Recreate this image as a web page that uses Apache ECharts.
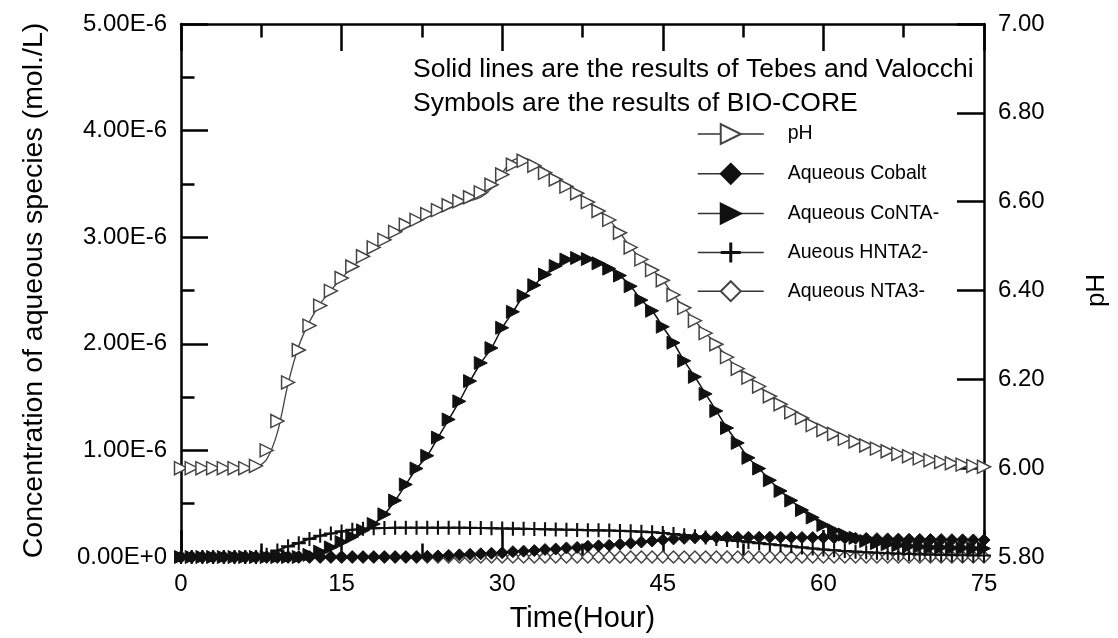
<!DOCTYPE html>
<html>
<head>
<meta charset="utf-8">
<script src="https://cdn.jsdelivr.net/npm/echarts@6/dist/echarts.min.js"></script>
<style>
html,body{margin:0;padding:0;background:#fff;}
#c{width:1118px;height:638px;}
</style>
</head>
<body>
<div id="c"></div>
<script>
// Time axis (hours), one symbol per hour
const hours = [];
for (let h = 0; h <= 75; h++) hours.push(h);

// pH from BIO-CORE (symbols)
const phSymbols = [6.00,6.00,6.00,6.00,6.00,6.00,6.00,6.005,6.04,6.106,
  6.193,6.266,6.321,6.366,6.399,6.428,6.454,6.477,6.497,6.514,
  6.532,6.548,6.559,6.572,6.581,6.592,6.601,6.61,6.621,6.638,
  6.661,6.683,6.692,6.681,6.665,6.65,6.634,6.619,6.599,6.579,
  6.559,6.530,6.497,6.470,6.446,6.423,6.390,6.361,6.332,6.304,
  6.279,6.250,6.224,6.204,6.184,6.162,6.144,6.126,6.113,6.097,
  6.086,6.077,6.066,6.060,6.051,6.044,6.038,6.032,6.027,6.022,
  6.018,6.014,6.011,6.008,6.005,6.003];
// pH from Tebes and Valocchi (solid line)
const phLine = [6.00,6.00,6.00,6.00,6.00,6.00,6.00,6.002,6.02,6.08,
  6.19,6.275,6.33,6.37,6.40,6.428,6.452,6.474,6.494,6.511,
  6.527,6.541,6.553,6.565,6.575,6.585,6.594,6.602,6.61,6.63,
  6.665,6.693,6.698,6.688,6.672,6.655,6.636,6.619,6.599,6.579,
  6.559,6.530,6.497,6.470,6.446,6.423,6.390,6.361,6.332,6.304,
  6.279,6.250,6.224,6.204,6.184,6.162,6.144,6.126,6.113,6.097,
  6.086,6.077,6.066,6.060,6.051,6.044,6.038,6.032,6.027,6.022,
  6.018,6.014,6.011,6.008,6.005,6.003];

// Concentrations in units of 1e-6 mol/L
const coNTA = [0,0,0,0,0,0,0,0,0,0,
  0,0,0.02,0.05,0.09,0.14,0.19,0.25,0.31,0.40,
  0.53,0.68,0.83,0.95,1.12,1.29,1.46,1.65,1.82,1.96,
  2.15,2.30,2.45,2.55,2.65,2.73,2.79,2.805,2.795,2.755,
  2.705,2.64,2.54,2.41,2.31,2.16,2.01,1.84,1.69,1.53,
  1.37,1.21,1.07,0.93,0.83,0.72,0.62,0.53,0.44,0.37,
  0.30,0.25,0.21,0.18,0.15,0.13,0.12,0.11,0.10,0.095,
  0.09,0.09,0.085,0.085,0.08,0.08];
const cobalt = [0,0,0,0,0,0,0,0,0,0,
  0,0,0,0,0,0,0,0,0,0,
  0,0,0,0.005,0.01,0.015,0.02,0.025,0.03,0.035,
  0.04,0.05,0.055,0.06,0.07,0.075,0.085,0.09,0.10,0.105,
  0.11,0.12,0.13,0.14,0.15,0.16,0.17,0.175,0.18,0.183,
  0.185,0.185,0.185,0.185,0.185,0.185,0.185,0.184,0.183,0.182,
  0.181,0.18,0.178,0.176,0.174,0.172,0.17,0.168,0.166,0.165,
  0.164,0.163,0.162,0.161,0.16,0.16];
const hNTA2 = [0,0,0,0,0,0,0,0,0.02,0.06,
  0.10,0.13,0.17,0.20,0.22,0.24,0.255,0.265,0.27,0.272,
  0.274,0.275,0.275,0.275,0.275,0.275,0.274,0.273,0.272,0.27,
  0.268,0.266,0.264,0.262,0.26,0.258,0.256,0.254,0.252,0.25,
  0.248,0.245,0.242,0.238,0.232,0.225,0.215,0.205,0.195,0.183,
  0.17,0.16,0.15,0.14,0.13,0.12,0.11,0.10,0.09,0.08,
  0.07,0.063,0.056,0.05,0.044,0.04,0.035,0.031,0.028,0.025,
  0.022,0.02,0.018,0.016,0.015,0.014];
const nTA3 = [0,0,0,0,0,0,0,0,0,0,
  0,0,0,0,0,0,0,0,0,0,
  0,0,0,0,0,0,0,0,0,0,
  0,0,0,0,0,0,0,0,0,0,
  0,0,0,0,0,0,0,0,0,0,
  0,0,0,0,0,0,0,0,0,0,
  0,0,0,0,0,0,0,0,0,0,
  0,0,0,0,0,0];

const xTicks = [0, 75, 15];      // min, max, interval
const concTicks = [0, 5e-6, 1e-6];
const phTicks = [5.8, 7.0, 0.2];
const legendNames = ['pH','Aqueous Cobalt','Aqueous CoNTA-','Aueous HNTA2-','Aqueous NTA3-'];
const noteText = 'Solid lines are the results of Tebes and Valocchi\nSymbols are the results of BIO-CORE';

const pairs = (ys, scale) => hours.map((h, i) => [h, ys[i] * scale]);

const FONT = 'Liberation Sans, Arial, sans-serif';
const AX = '#000';
const PLUS = 'path://M-1.2,-8 h2.4 v16 h-2.4z M-8,-1.2 h16 v2.4 h-16z';

function symbolSeries(name, data, yIdx, symbol, size, rotate, fill, stroke, bw, z) {
  return {
    name, type: 'line', data, xAxisIndex: 0, yAxisIndex: yIdx,
    symbol, symbolSize: size, symbolRotate: rotate, showAllSymbol: true,
    lineStyle: { opacity: 0 }, silent: true, animation: false, z,
    itemStyle: { color: fill, borderColor: stroke, borderWidth: bw }
  };
}
function lineSeries(name, data, yIdx, color, w, z) {
  return {
    name, type: 'line', data, xAxisIndex: 0, yAxisIndex: yIdx, symbol: 'none',
    smooth: 0.3, lineStyle: { color, width: w }, silent: true, animation: false, z
  };
}
function ticks(len, minor) {
  return {
    axisTick: { show: true, inside: true, length: len, lineStyle: { color: AX, width: 2.5 } },
    minorTick: { show: minor, splitNumber: 2, length: len / 2, lineStyle: { color: AX, width: 2.5 } }
  };
}

const chart = echarts.init(document.getElementById('c'), null, { renderer: 'canvas' });
chart.setOption({
  backgroundColor: '#fff',
  animation: false,
  textStyle: { fontFamily: FONT },
  title: {
    text: noteText, left: 413, top: 53, padding: 0,
    textStyle: { fontFamily: FONT, fontSize: 26.5, fontWeight: 'normal', color: '#000', lineHeight: 34 }
  },
  legend: {
    data: legendNames, orient: 'vertical', left: 697, top: 123, padding: 0,
    itemWidth: 66, itemHeight: 25, itemGap: 17.8, selectedMode: false,
    lineStyle: { color: '#333', width: 1.5, opacity: 1, type: 'solid' },
    textStyle: { fontFamily: FONT, fontSize: 19.5, color: '#000', padding: [0, 0, 0, 19] }
  },
  grid: { left: 181, right: 130, top: 24, bottom: 73, containLabel: false },
  xAxis: [Object.assign({
    type: 'value', position: 'bottom', min: xTicks[0], max: xTicks[1], interval: xTicks[2],
    name: 'Time(Hour)', nameLocation: 'middle', nameGap: 47,
    nameTextStyle: { fontFamily: FONT, fontSize: 29, color: '#000' },
    axisLine: { show: true, onZero: false, lineStyle: { color: AX, width: 2.5 } },
    axisLabel: { fontFamily: FONT, fontSize: 24, color: '#000', margin: 15 },
    splitLine: { show: false }
  }, ticks(27, true)), Object.assign({
    type: 'value', position: 'top', min: xTicks[0], max: xTicks[1], interval: xTicks[2],
    axisLine: { show: true, onZero: false, lineStyle: { color: AX, width: 2.5 } },
    axisLabel: { show: false }, splitLine: { show: false }
  }, ticks(27, true))],
  yAxis: [Object.assign({
    type: 'value', position: 'left', min: concTicks[0], max: concTicks[1], interval: concTicks[2],
    name: 'Concentration of aqueous species (mol./L)', nameLocation: 'middle', nameGap: 132, nameRotate: 90,
    nameTextStyle: { fontFamily: FONT, fontSize: 28.5, color: '#000' },
    axisLine: { show: true, onZero: false, lineStyle: { color: AX, width: 2.5 } },
    axisLabel: { fontFamily: FONT, fontSize: 24, color: '#000', margin: 14,
      formatter: v => Number(v).toExponential(2).toUpperCase() },
    splitLine: { show: false }
  }, ticks(27, true)), Object.assign({
    type: 'value', position: 'right', min: phTicks[0], max: phTicks[1], interval: phTicks[2],
    name: 'pH', nameLocation: 'middle', nameGap: 100, nameRotate: 90,
    nameTextStyle: { fontFamily: FONT, fontSize: 26, color: '#000' },
    axisLine: { show: true, onZero: false, lineStyle: { color: AX, width: 2.5 } },
    axisLabel: { fontFamily: FONT, fontSize: 24, color: '#000', margin: 14,
      formatter: v => Number(v).toFixed(2) },
    splitLine: { show: false }
  }, ticks(27, false))],
  series: [
    lineSeries('pH-line', pairs(phLine, 1), 1, '#444', 1.3, 3),
    lineSeries('Cobalt-line', pairs(cobalt, 1e-6), 0, '#111', 1.5, 3),
    lineSeries('CoNTA-line', pairs(coNTA, 1e-6), 0, '#111', 1.5, 3),
    lineSeries('HNTA2-line', pairs(hNTA2, 1e-6), 0, '#111', 2, 3),
    lineSeries('NTA3-line', pairs(nTA3, 1e-6), 0, '#444', 1.5, 3),
    symbolSeries('Aqueous NTA3-', pairs(nTA3, 1e-6), 0, 'diamond', 12, 0, '#fff', '#444', 1.5, 4),
    symbolSeries('Aqueous Cobalt', pairs(cobalt, 1e-6), 0, 'diamond', 12, 0, '#111', '#111', 1, 5),
    symbolSeries('Aueous HNTA2-', pairs(hNTA2, 1e-6), 0, PLUS, 14, 0, '#111', '#111', 0, 5),
    symbolSeries('Aqueous CoNTA-', pairs(coNTA, 1e-6), 0, 'triangle', 13, -90, '#111', '#111', 1, 6),
    symbolSeries('pH', pairs(phSymbols, 1), 1, 'triangle', 13, -90, '#fff', '#444', 1.5, 6)
  ]
});
</script>
</body>
</html>
